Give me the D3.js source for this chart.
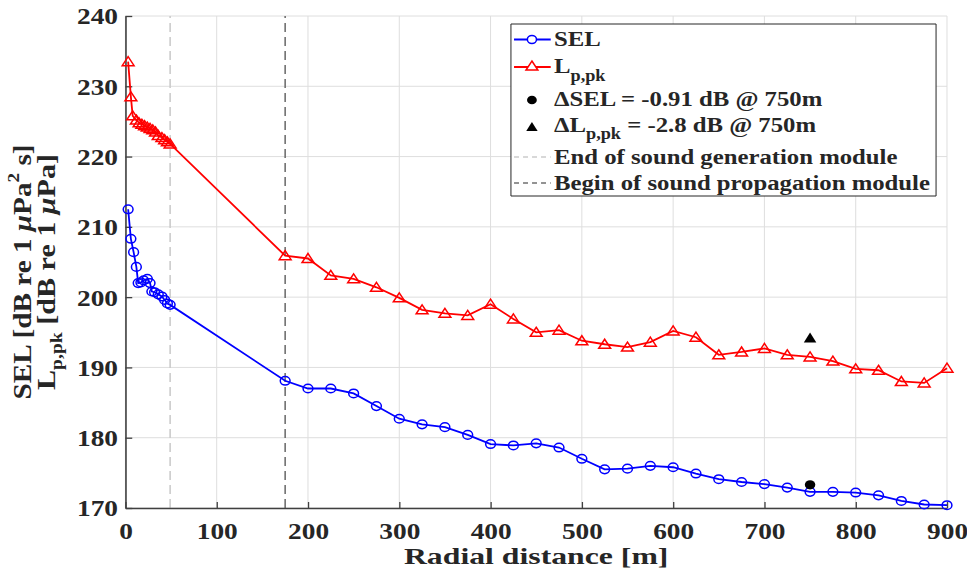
<!DOCTYPE html>
<html lang="en">
<head>
<meta charset="utf-8">
<script src="https://d3js.org/d3.v7.min.js"></script>
<style>
body { margin: 0; background: #fff; }
svg text { font-family: "Liberation Serif", Tinos, "Times New Roman", Times, "DejaVu Serif", serif; font-weight: bold; fill: #262626; }
.ns { vector-effect: non-scaling-stroke; }
</style>
</head>
<body>
<script>
// radial distance [m] and levels [dB]
var selDist = [3, 6, 9, 12, 14, 17, 20, 24, 27, 29, 32, 36, 40, 43, 46, 49,
  175, 200, 225, 250, 275, 300, 325, 350, 375, 400, 425, 450, 475, 500, 525,
  550, 575, 600, 625, 650, 675, 700, 725, 750, 775, 800, 825, 850, 875, 900];
var selVal = [212.5, 208.3, 206.4, 204.3, 202.0, 202.1, 202.4, 202.6, 202.0, 200.8, 200.7, 200.4, 200.1, 199.6, 199.1, 198.9,
  188.1, 187.0, 187.0, 186.3, 184.5, 182.7, 181.9, 181.5, 180.4, 179.1, 178.9, 179.2, 178.6, 177.0, 175.5,
  175.6, 176.0, 175.8, 174.9, 174.1, 173.7, 173.4, 172.9, 172.3, 172.3, 172.2, 171.8, 171.0, 170.5, 170.4];
var lpkDist = [3, 6, 8, 12, 15, 18, 21, 24, 27, 30, 33, 36, 40, 43, 46, 49,
  175, 200, 225, 250, 275, 300, 325, 350, 375, 400, 425, 450, 475, 500, 525,
  550, 575, 600, 625, 650, 675, 700, 725, 750, 775, 800, 825, 850, 875, 900];
var lpkVal = [233.5, 228.5, 225.8, 225.2, 224.8, 224.6, 224.4, 224.2, 224.0, 223.8, 223.5, 223.0, 222.7, 222.4, 222.1, 221.8,
  205.9, 205.5, 203.1, 202.6, 201.4, 199.9, 198.2, 197.7, 197.4, 199.0, 196.9, 195.0, 195.3, 193.8, 193.3,
  192.9, 193.6, 195.2, 194.3, 191.8, 192.2, 192.7, 191.8, 191.5, 190.9, 189.8, 189.6, 188.0, 187.8, 189.9];
var deltaSel = [750, 173.3];
var deltaLpk = [750, 194.2];
var moduleEnd = 49, moduleBegin = 175;
var xTicks = [0, 100, 200, 300, 400, 500, 600, 700, 800, 900];
var yTicks = [170, 180, 190, 200, 210, 220, 230, 240];

var width = 967, height = 570, sx = 1.14;
var vbW = width / sx;

var svg = d3.select("body").append("svg")
  .attr("width", width)
  .attr("height", height)
  .attr("viewBox", "0 0 " + vbW + " " + height)
  .attr("preserveAspectRatio", "none");

var x = d3.scaleLinear().domain([0, 900]).range([110, 830.7]);
var y = d3.scaleLinear().domain([170, 240]).range([508, 16]);

// grid
svg.append("g").selectAll("line").data(xTicks).enter().append("line")
  .attr("class", "ns")
  .attr("x1", d => x(d)).attr("x2", d => x(d))
  .attr("y1", y(170)).attr("y2", y(240))
  .attr("stroke", "#dedede").attr("stroke-width", 1);
svg.append("g").selectAll("line").data(yTicks).enter().append("line")
  .attr("class", "ns")
  .attr("x1", x(0)).attr("x2", x(900))
  .attr("y1", d => y(d)).attr("y2", d => y(d))
  .attr("stroke", "#dedede").attr("stroke-width", 1);

// module boundaries
svg.append("line").attr("class", "ns")
  .attr("x1", x(moduleEnd)).attr("x2", x(moduleEnd))
  .attr("y1", y(170)).attr("y2", y(240))
  .attr("stroke", "#cccccc").attr("stroke-width", 1.6).attr("stroke-dasharray", "9,5");
svg.append("line").attr("class", "ns")
  .attr("x1", x(moduleBegin)).attr("x2", x(moduleBegin))
  .attr("y1", y(170)).attr("y2", y(240))
  .attr("stroke", "#707070").attr("stroke-width", 1.6).attr("stroke-dasharray", "9,5");

// axes
var xAxis = svg.append("g").attr("transform", "translate(0," + y(170) + ")")
  .call(d3.axisBottom(x).tickValues(xTicks).tickSizeInner(-6).tickSizeOuter(0).tickPadding(13.5));
var yAxis = svg.append("g").attr("transform", "translate(" + x(0) + ",0)")
  .call(d3.axisLeft(y).tickValues(yTicks).tickSizeInner(-6).tickSizeOuter(0).tickPadding(6.5));
[xAxis, yAxis].forEach(function (g) {
  g.attr("font-family", null).attr("font-size", null);
  g.select(".domain").attr("class", "domain ns").attr("stroke", "#404040").attr("stroke-width", 1.6);
  g.selectAll(".tick line").attr("class", "ns").attr("stroke", "#404040").attr("stroke-width", 1.3);
  g.selectAll(".tick text").attr("font-size", 24).attr("fill", "#262626");
});
yAxis.selectAll(".tick text").attr("dy", "0.33em");

var tri = "M0,-5L5.2,4L-5.2,4Z";

var line = d3.line().x(d => x(d[0])).y(d => y(d[1]));
var selPts = selDist.map((d, i) => [d, selVal[i]]);
var lpkPts = lpkDist.map((d, i) => [d, lpkVal[i]]);

svg.append("path").datum(lpkPts).attr("class", "ns").attr("d", line)
  .attr("fill", "none").attr("stroke", "#ff0000").attr("stroke-width", 1.8);
svg.append("g").selectAll("path").data(lpkPts).enter().append("path")
  .attr("class", "ns").attr("d", tri)
  .attr("transform", d => "translate(" + x(d[0]) + "," + y(d[1]) + ")")
  .attr("fill", "none").attr("stroke", "#ff0000").attr("stroke-width", 1.5);

svg.append("path").datum(selPts).attr("class", "ns").attr("d", line)
  .attr("fill", "none").attr("stroke", "#0000ff").attr("stroke-width", 1.8);
svg.append("g").selectAll("circle").data(selPts).enter().append("circle")
  .attr("class", "ns")
  .attr("cx", d => x(d[0])).attr("cy", d => y(d[1])).attr("r", 4.3)
  .attr("fill", "none").attr("stroke", "#0000ff").attr("stroke-width", 1.5);

svg.append("circle").attr("cx", x(deltaSel[0])).attr("cy", y(deltaSel[1])).attr("r", 4.6).attr("fill", "#000");
svg.append("path").attr("d", "M0,-5.5L5.5,4.5L-5.5,4.5Z")
  .attr("transform", "translate(" + x(deltaLpk[0]) + "," + y(deltaLpk[1]) + ")").attr("fill", "#000");

// axis labels
svg.append("text").attr("x", (x(0) + x(900)) / 2).attr("y", 564)
  .attr("text-anchor", "middle").attr("font-size", 23)
  .attr("textLength", 232).attr("lengthAdjust", "spacingAndGlyphs")
  .text("Radial distance [m]");

var yl1 = svg.append("text").attr("transform", "translate(27,272) rotate(-90)")
  .attr("text-anchor", "middle").attr("font-size", 23)
  .attr("textLength", 255).attr("lengthAdjust", "spacingAndGlyphs");
yl1.append("tspan").text("SEL [dB re 1 ");
yl1.append("tspan").attr("font-style", "italic").text("\u03bc");
yl1.append("tspan").text("Pa");
yl1.append("tspan").attr("font-size", 15).attr("dy", -10).text("2");
yl1.append("tspan").attr("dy", 10).text(" s]");

var yl2 = svg.append("text").attr("transform", "translate(48,272) rotate(-90)")
  .attr("text-anchor", "middle").attr("font-size", 23)
  .attr("textLength", 236).attr("lengthAdjust", "spacingAndGlyphs");
yl2.append("tspan").text("L");
yl2.append("tspan").attr("font-size", 15).attr("dy", 6).text("p,pk");
yl2.append("tspan").attr("dy", -6).text(" [dB re 1 ");
yl2.append("tspan").attr("font-style", "italic").text("\u03bc");
yl2.append("tspan").text("Pa]");

// legend
var lg = svg.append("g");
lg.append("rect").attr("class", "ns").attr("x", 448.2).attr("y", 24).attr("width", 372.9).attr("height", 172)
  .attr("fill", "#fff").attr("stroke", "#262626").attr("stroke-width", 1);
var lx0 = 450.9, lx1 = 483.1, lxm = 466.6, tx = 486, fs = 21.7;

lg.append("line").attr("class", "ns").attr("x1", lx0).attr("x2", lx1).attr("y1", 39.5).attr("y2", 39.5)
  .attr("stroke", "#0000ff").attr("stroke-width", 1.8);
lg.append("circle").attr("class", "ns").attr("cx", lxm).attr("cy", 39.5).attr("r", 4)
  .attr("fill", "#fff").attr("stroke", "#0000ff").attr("stroke-width", 1.5);
lg.append("text").attr("x", tx).attr("y", 46.5).attr("font-size", fs).text("SEL");

lg.append("line").attr("class", "ns").attr("x1", lx0).attr("x2", lx1).attr("y1", 67).attr("y2", 67)
  .attr("stroke", "#ff0000").attr("stroke-width", 1.8);
lg.append("path").attr("class", "ns").attr("d", tri).attr("transform", "translate(" + lxm + ",66)")
  .attr("fill", "#fff").attr("stroke", "#ff0000").attr("stroke-width", 1.5);
var t2 = lg.append("text").attr("x", tx).attr("y", 73.5).attr("font-size", fs);
t2.append("tspan").text("L");
t2.append("tspan").attr("font-size", 16).attr("dy", 7.5).text("p,pk");

lg.append("circle").attr("cx", lxm).attr("cy", 100).attr("r", 4.3).attr("fill", "#000");
lg.append("text").attr("x", tx).attr("y", 106).attr("font-size", fs).text("\u0394SEL = -0.91 dB @ 750m");

lg.append("path").attr("d", "M0,-5L5,4L-5,4Z").attr("transform", "translate(" + lxm + ",127)").attr("fill", "#000");
var t4 = lg.append("text").attr("x", tx).attr("y", 132).attr("font-size", fs);
t4.append("tspan").text("\u0394L");
t4.append("tspan").attr("font-size", 16).attr("dy", 7.5).text("p,pk");
t4.append("tspan").attr("dy", -7.5).text(" = -2.8 dB @ 750m");

lg.append("line").attr("class", "ns").attr("x1", lx0).attr("x2", lx1).attr("y1", 157).attr("y2", 157)
  .attr("stroke", "#cccccc").attr("stroke-width", 1.3).attr("stroke-dasharray", "5,4");
lg.append("text").attr("x", tx).attr("y", 164.5).attr("font-size", fs).text("End of sound generation module");

lg.append("line").attr("class", "ns").attr("x1", lx0).attr("x2", lx1).attr("y1", 183).attr("y2", 183)
  .attr("stroke", "#707070").attr("stroke-width", 1.3).attr("stroke-dasharray", "5,4");
lg.append("text").attr("x", tx).attr("y", 190.5).attr("font-size", fs).text("Begin of sound propagation module");
</script>
</body>
</html>
